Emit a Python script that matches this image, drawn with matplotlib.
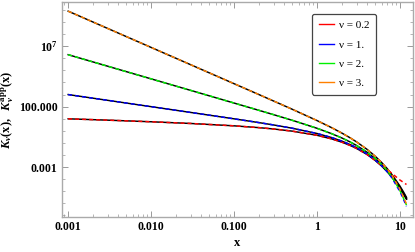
import numpy as np
import matplotlib
matplotlib.use("Agg")
import matplotlib.pyplot as plt
from matplotlib.lines import Line2D

# ---- data ----
x_vals = [0.001, 0.003, 0.01, 0.03, 0.1, 0.2, 0.3, 0.5, 1.0, 1.5, 2.0, 2.5, 3.0,
          4.0, 5.0, 6.0, 7.0, 8.0, 10.0, 11.0, 12.0]

nu_labels = ["ν = 0.2", "ν = 1.", "ν = 2.", "ν = 3."]
colors = ["#ff0000", "#0000ff", "#00f000", "#ff8000"]

# exact curves K_nu(x)
k_02 = [9.861, 7.634, 5.615, 4.060, 2.590, 1.832, 1.421, 0.9474, 0.4273, 0.2162, 0.1148,
        0.06272, 0.03492, 0.01121, 0.003704, 1.2478e-3, 4.259e-4, 1.4682e-4, 1.7814e-5,
        6.254e-6, 2.2045e-6]
k_1 = [1000.0, 333.3, 99.97, 33.27, 9.854, 4.776, 3.056, 1.6564, 0.6019, 0.2774, 0.13987,
       0.07389, 0.040156, 0.012483, 0.0040446, 1.3439e-3, 4.5418e-4, 1.5537e-4, 1.8649e-5,
       6.521e-6, 2.2908e-6]
k_2 = [2.0e6, 2.222e5, 2.0e4, 2221.7, 199.5, 49.51, 21.75, 7.55, 1.6248, 0.5836, 0.25376,
       0.12146, 0.06151, 0.017402, 0.005309, 1.692e-3, 5.546e-4, 1.8531e-4, 2.151e-5,
       7.4287e-6, 2.5827e-6]
k_3 = [8.0e9, 2.963e8, 8.0e6, 2.963e5, 7990.0, 995.0, 293.0, 62.06, 7.101, 1.8337, 0.6474,
       0.26823, 0.12217, 0.029885, 0.008292, 2.4719e-3, 7.711e-4, 2.4802e-4, 2.7253e-5,
       9.2224e-6, 3.1517e-6]

# approximations K_nu^app(x): same as exact up to x~5, then drift away
app_02 = k_02[:15] + [1.35e-3, 6.4e-4, 3.0e-4, 8.5e-5, 5.5e-5, 3.6e-5]
app_1 = k_1[:15] + [1.32e-3, 4.3e-4, 1.30e-4, 9.5e-6, 2.3e-6, 5.7e-7]
app_2 = k_2[:15] + [1.66e-3, 5.3e-4, 1.58e-4, 1.15e-5, 2.8e-6, 7.2e-7]
app_3 = k_3[:15] + [2.42e-3, 7.4e-4, 2.15e-4, 1.5e-5, 3.5e-6, 8.8e-7]

exact = [k_02, k_1, k_2, k_3]
approx = [app_02, app_1, app_2, app_3]

# ---- style ----
plt.rcParams['font.family'] = ['Liberation Serif', 'DejaVu Serif']
plt.rcParams['mathtext.fontset'] = 'custom'
plt.rcParams['mathtext.rm'] = 'Liberation Serif:bold'
plt.rcParams['mathtext.it'] = 'Liberation Serif:bold:italic'
plt.rcParams['mathtext.bf'] = 'Liberation Serif:bold'

fig = plt.figure(figsize=(4.15, 2.52), dpi=100)
ax = fig.add_axes([0.149, 0.139, 0.846, 0.853])

for ex in exact:
    ax.plot(x_vals, ex, color='black', lw=1.05, zorder=2)
for ap, c in zip(approx, colors):
    ax.plot(x_vals, ap, color=c, lw=1.1, dashes=(2.6, 2.0), zorder=3)

ax.set_xscale('log')
ax.set_yscale('log')
ax.set_xlim(10**-3.076, 10**1.157)
ax.set_ylim(10**-7.13, 10**10.66)

ax.set_xticks([0.001, 0.01, 0.1, 1, 10])
ax.set_xticklabels(["0.001", "0.010", "0.100", "1", "10"])
ax.set_yticks([1e-3, 1e2, 1e7])
ax.set_yticklabels(["0.001", "100.000", r"$10^{7}$"])
ax.set_yticks([10.0**k for k in range(-7, 11) if k not in (-3, 2, 7)], minor=True)
ax.yaxis.set_minor_formatter(matplotlib.ticker.NullFormatter())

for lab in ax.get_xticklabels() + ax.get_yticklabels():
    lab.set_fontweight('bold')
    lab.set_fontsize(8.5)

ax.tick_params(which='both', direction='in', top=True, right=True, color='#999999')
ax.tick_params(which='major', length=4, width=0.7, pad=3)
ax.tick_params(which='minor', length=2, width=0.5)
for sp in ax.spines.values():
    sp.set_color('#aaaaaa')
    sp.set_linewidth(1.0)

ax.set_xlabel("x", fontsize=9, fontweight='bold', labelpad=3)
ax.set_ylabel(r"$K_\nu(\mathrm{x}),\ \ K_\nu^{\mathrm{app}}(\mathrm{x})$", fontsize=9, labelpad=2)

handles = [Line2D([0], [0], color=c, lw=1.0) for c in colors]
leg = ax.legend(handles, nu_labels, loc='upper right', bbox_to_anchor=(0.895, 0.945),
                fontsize=8, labelspacing=0.85, handlelength=1.4, handletextpad=0.4,
                borderpad=0.6, borderaxespad=0.0, fancybox=True, framealpha=1)
leg.get_frame().set_edgecolor('#444444')
leg.get_frame().set_linewidth(0.9)

fig.savefig("out.png", dpi=100)
